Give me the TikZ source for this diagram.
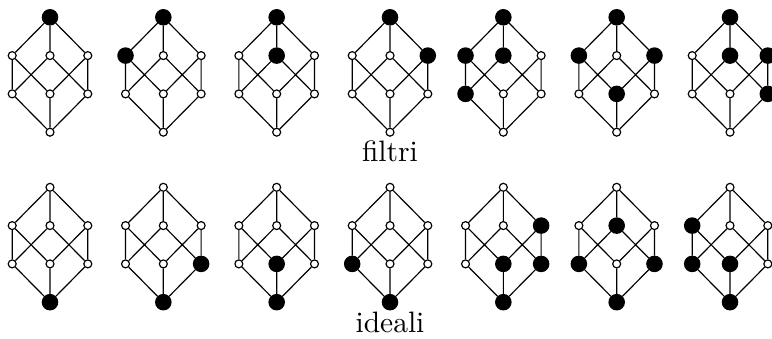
\documentclass[tikz,border=0pt]{standalone}
\tikzset{
  W/.style={circle,draw,fill=white,line width=0.4pt,inner sep=0pt,minimum size=2.7pt},
  B/.style={circle,draw,fill=black,line width=0.4pt,inner sep=0pt,minimum size=5.2pt},
  edge/.style={line width=0.4pt},
}
\def\setflags#1#2#3#4#5#6#7#8{\def\ft{#1}\def\fa{#2}\def\fb{#3}\def\fc{#4}\def\fl{#5}\def\fm{#6}\def\fr{#7}\def\fz{#8}}
\newcommand\hasse[3]{%
  \setflags#3%
  \begin{scope}[shift={#1}]
    \node[\ft] (#2t) at (0,0) {};
    \node[\fa] (#2a) at (-37.8,38.3) {};
    \node[\fb] (#2b) at (0,38.3) {};
    \node[\fc] (#2c) at (37.8,38.3) {};
    \node[\fl] (#2l) at (-37.8,76.6) {};
    \node[\fm] (#2m) at (0,76.6) {};
    \node[\fr] (#2r) at (37.8,76.6) {};
    \node[\fz] (#2z) at (0,114.9) {};
    \draw[edge] (#2t) -- (#2a) (#2t) -- (#2b) (#2t) -- (#2c)
      (#2a) -- (#2l) (#2a) -- (#2m) (#2b) -- (#2l) (#2b) -- (#2r)
      (#2c) -- (#2m) (#2c) -- (#2r)
      (#2l) -- (#2z) (#2m) -- (#2z) (#2r) -- (#2z);
  \end{scope}}
\begin{document}
\begin{tikzpicture}[x=0.339pt,y=-0.339pt]
\useasboundingbox (0,0) rectangle (772,339);
\hasse{(50,17.3)}{fa}{BWWWWWWW}
\hasse{(163.33,17.3)}{fb}{BBWWWWWW}
\hasse{(276.67,17.3)}{fc}{BWBWWWWW}
\hasse{(390,17.3)}{fd}{BWWBWWWW}
\hasse{(503.33,17.3)}{fe}{BBBWBWWW}
\hasse{(616.67,17.3)}{ff}{BBWBWBWW}
\hasse{(730,17.3)}{fg}{BWBBWWBW}
\hasse{(50,187.3)}{ia}{WWWWWWWB}
\hasse{(163.33,187.3)}{ib}{WWWWWWBB}
\hasse{(276.67,187.3)}{ic}{WWWWWBWB}
\hasse{(390,187.3)}{id}{WWWWBWWB}
\hasse{(503.33,187.3)}{ie}{WWWBWBBB}
\hasse{(616.67,187.3)}{iff}{WWBWBWBB}
\hasse{(730,187.3)}{ig}{WBWWBBWB}
\node[anchor=base] (filtri) at (390,162) {filtri};
\node[anchor=base] (ideali) at (390,333) {ideali};
\end{tikzpicture}
\end{document}
